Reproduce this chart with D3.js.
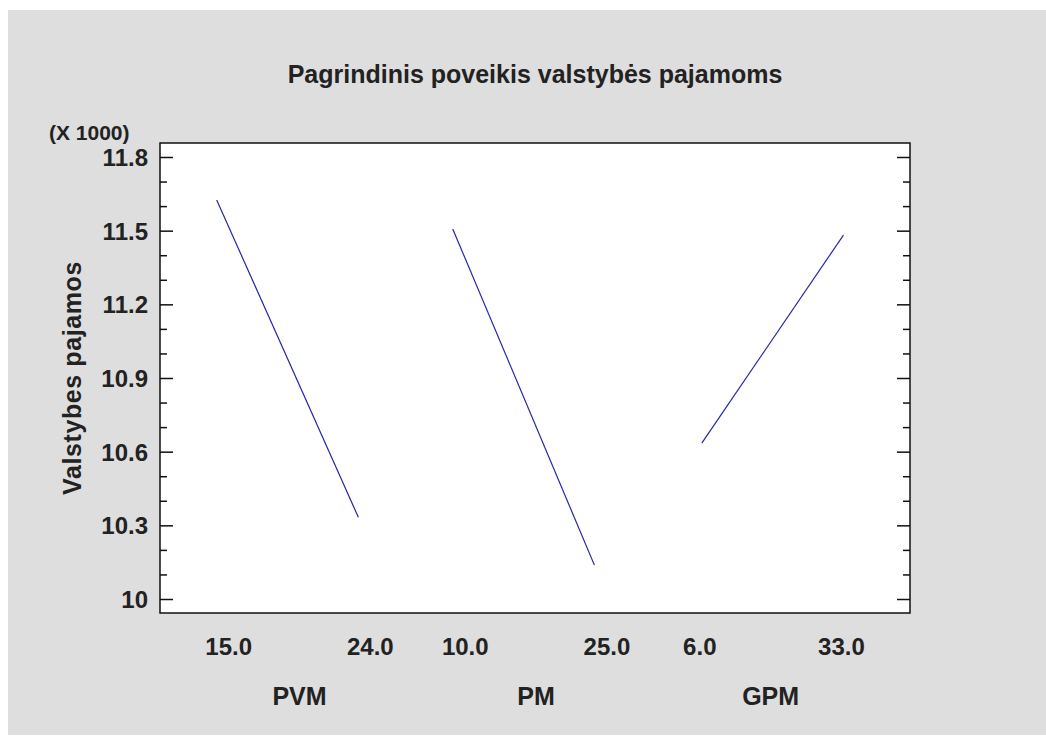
<!DOCTYPE html>
<html><head><meta charset="utf-8">
<script src="https://cdn.jsdelivr.net/npm/d3@7"></script>
<style>
html,body{margin:0;padding:0;background:#fff;}
text{font-family:"Liberation Sans",Arial,sans-serif;font-weight:bold;fill:#222;}
</style></head>
<body>
<svg id="c" width="1046" height="752"></svg>
<script>
const factors = ["PVM", "PM", "GPM"];
const lowLevels = [15.0, 10.0, 6.0];
const highLevels = [24.0, 25.0, 33.0];
const lowValues = [11625, 11507, 10635];
const highValues = [10333, 10138, 11482];
const yMajorTicks = [10000, 10300, 10600, 10900, 11200, 11500, 11800];
const yMinorTicks = [10100, 10200, 10400, 10500, 10700, 10800, 11000, 11100, 11300, 11400, 11600, 11700];
const title = "Pagrindinis poveikis valstybės pajamoms";
const yTitle = "Valstybes pajamos";
const yScaleNote = "(X 1000)";

const svg = d3.select("#c");
svg.append("rect").attr("x",8).attr("y",10).attr("width",1038).attr("height",725).attr("fill","#dedede");

const L = 160, R = 910, T = 143, B = 613;
const y = d3.scaleLinear().domain([9943, 11857]).range([B, T]);
const band = d3.scaleBand().domain(factors).range([L, R]).paddingInner(0.416).paddingOuter(0.254).align(0.46);
// layout nudges (style only)
const bandNudge = {PVM: 0, PM: -6.5, GPM: 0};
const labelShift = {PVM: 12, PM: 12.5, GPM: -2};

svg.append("rect").attr("x",L).attr("y",T).attr("width",R-L).attr("height",B-T).attr("fill","#fff");

// lines
factors.forEach((f,i)=>{
  const x0 = band(f) + bandNudge[f];
  const xs = d3.scaleLinear().domain([lowLevels[i], highLevels[i]]).range([x0, x0 + band.bandwidth()]);
  const pts = [[lowLevels[i], lowValues[i]], [highLevels[i], highValues[i]]];
  svg.append("path").datum(pts)
    .attr("d", d3.line().x(d=>xs(d[0])).y(d=>y(d[1])))
    .attr("fill","none").attr("stroke","#2626a6").attr("stroke-width",1.2);
  const shift = labelShift[f];
  [lowLevels[i], highLevels[i]].forEach(v=>{
    svg.append("text").attr("x", xs(v)+shift).attr("y", 655).attr("text-anchor","middle")
      .style("font-size","24px").text(v.toFixed(1));
  });
  svg.append("text").attr("x", (xs(lowLevels[i])+xs(highLevels[i]))/2+shift).attr("y", 705)
    .attr("text-anchor","middle").style("font-size","25px").text(f);
});

// axes (inward ticks)
const fmt = v => String(+(v/1000).toFixed(1));
const gl = svg.append("g").attr("transform",`translate(${L},0)`)
  .call(d3.axisRight(y).tickValues(yMajorTicks).tickSize(13).tickFormat(""));
const glm = svg.append("g").attr("transform",`translate(${L},0)`)
  .call(d3.axisRight(y).tickValues(yMinorTicks).tickSize(7).tickFormat(""));
const gr = svg.append("g").attr("transform",`translate(${R},0)`)
  .call(d3.axisLeft(y).tickValues(yMajorTicks).tickSize(13).tickFormat(""));
const grm = svg.append("g").attr("transform",`translate(${R},0)`)
  .call(d3.axisLeft(y).tickValues(yMinorTicks).tickSize(7).tickFormat(""));
[gl,glm,gr,grm].forEach(g=>{
  g.select(".domain").remove();
  g.selectAll("line").attr("stroke","#111").attr("stroke-width",1.5);
});
svg.selectAll(".ylab").data(yMajorTicks).enter().append("text")
  .attr("x",148).attr("y",d=>y(d)+9).attr("text-anchor","end")
  .style("font-size","24px").text(fmt);

svg.append("rect").attr("x",L).attr("y",T).attr("width",R-L).attr("height",B-T)
  .attr("fill","none").attr("stroke","#111").attr("stroke-width",1.5);

svg.append("text").attr("x",535).attr("y",83).attr("text-anchor","middle").style("font-size","25px").text(title);
svg.append("text").attr("x",49).attr("y",140).style("font-size","21px").text(yScaleNote);
svg.append("text").attr("transform",`translate(81,${(T+B)/2}) rotate(-90)`).attr("text-anchor","middle")
  .style("font-size","25px").style("letter-spacing","0.6px").text(yTitle);
</script>
</body></html>
